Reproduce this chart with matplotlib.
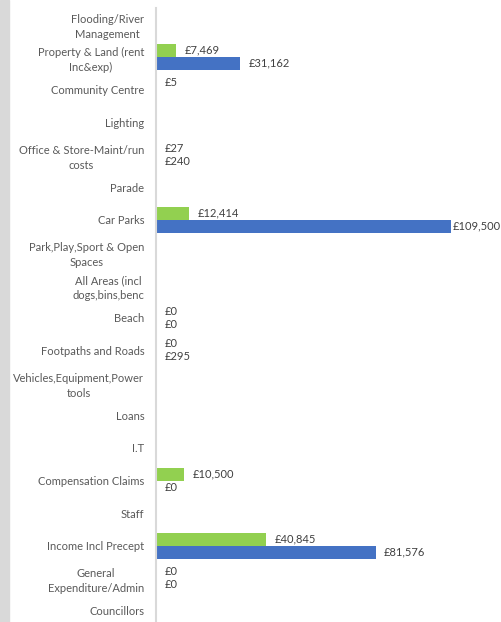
import matplotlib.pyplot as plt

# categories, top to bottom as drawn
categories = ['Flooding/River\nManagement', 'Property & Land (rent\nInc&exp)', 'Community Centre',
              'Lighting', 'Office & Store-Maint/run\ncosts', 'Parade', 'Car Parks',
              'Park,Play,Sport & Open\nSpaces', 'All Areas (incl\ndogs,bins,benc', 'Beach',
              'Footpaths and Roads', 'Vehicles,Equipment,Power\ntools', 'Loans', 'I.T',
              'Compensation Claims', 'Staff', 'Income Incl Precept', 'General\nExpenditure/Admin',
              'Councillors']

# green series (upper bar) and blue series (lower bar); None = no value shown
green_vals = [None, 7469, 5, None, 27, None, 12414, None, None, 0,
              0, None, None, None, 10500, None, 40845, 0, None]
blue_vals = [None, 31162, None, None, 240, None, 109500, None, None, 0,
             295, None, None, None, 0, None, 81576, 0, None]

green = '#92d050'
blue = '#4472c4'

plt.rcParams['font.family'] = ['Lato', 'DejaVu Sans']

fig = plt.figure(figsize=(5.01, 6.22), dpi=100)
# grey strip down the left edge
fig.patches.append(plt.Rectangle((0, 0), 9 / 501, 1, transform=fig.transFigure,
                                 color='#d9d9d9', zorder=0))

ax = fig.add_axes([156 / 501, 0, 345 / 501, 614 / 622])

h = 0.4
biggest = max(v for v in blue_vals if v is not None)
for i in range(len(categories)):
    g = green_vals[i]
    b = blue_vals[i]
    if g is not None:
        ax.barh(i - h / 2, g, height=h, color=green)
        ax.annotate('£{:,}'.format(g), (g, i - h / 2), xytext=(6, 0), textcoords='offset points',
                    va='center', ha='left', fontsize=8, color='#404040')
    if b is not None:
        ax.barh(i + h / 2, b, height=h, color=blue)
        # the longest bar's label gets squeezed in against the edge
        off = 1.5 if b == biggest else 6
        ax.annotate('£{:,}'.format(b), (b, i + h / 2), xytext=(off, 0), textcoords='offset points',
                    va='center', ha='left', fontsize=8, color='#404040')

ax.set_xlim(0, 345 / 0.002694)
ax.set_ylim(18.34, -0.5)
ax.set_yticks(range(len(categories)))
ax.set_yticklabels(categories, fontsize=8, color='#595959', multialignment='center',
                   linespacing=1.45)
ax.tick_params(axis='y', length=0, pad=8.5)
ax.set_xticks([])

for s in ['top', 'right', 'bottom']:
    ax.spines[s].set_visible(False)
ax.spines['left'].set_color('#d9d9d9')
ax.spines['left'].set_linewidth(1.5)

fig.savefig('out.png', dpi=100)
